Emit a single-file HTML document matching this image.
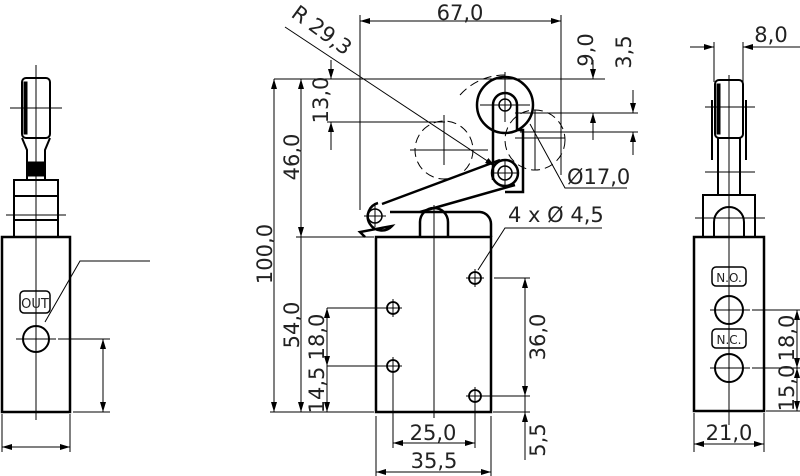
<!DOCTYPE html>
<html><head><style>body{margin:0;background:#fff}svg{display:block}text{font-family:"DejaVu Sans","Liberation Sans",sans-serif;font-size:21px;fill:#222}</style></head>
<body>
<svg width="800" height="476" viewBox="0 0 800 476" xmlns="http://www.w3.org/2000/svg">
<defs>
<marker id="a" viewBox="0 0 10 6" refX="10" refY="3" markerWidth="10" markerHeight="6" orient="auto-start-reverse" markerUnits="userSpaceOnUse"><path d="M0,0L10,3L0,6z" fill="#000"/></marker>
</defs>
<g stroke="#000" fill="none" stroke-width="1">
<!-- ===== LEFT VIEW ===== -->
<rect x="2" y="237" width="68" height="175" stroke-width="2.5"/>
<line x1="36" y1="65" x2="36" y2="420"/>
<rect x="20" y="291" width="30" height="22" rx="4" stroke-width="1.5"/>
<circle cx="36" cy="339" r="13" stroke-width="2"/>
<line x1="16" y1="339" x2="56" y2="339"/>
<line x1="58" y1="339" x2="110" y2="339"/>
<line x1="73" y1="412" x2="110" y2="412"/>
<line x1="103" y1="339" x2="103" y2="412" marker-start="url(#a)" marker-end="url(#a)"/>
<polyline points="45,322 80,261 150,261"/>
<line x1="2" y1="414" x2="2" y2="452"/><line x1="70" y1="414" x2="70" y2="452"/>
<line x1="2" y1="447" x2="70" y2="447" marker-start="url(#a)" marker-end="url(#a)"/>
<g stroke-width="2">
<rect x="22" y="78" width="28" height="60" rx="4"/>
<path d="M22,138 L27,150 L27,180 M50,138 L45,150 L45,180"/>
<rect x="14" y="180" width="44" height="57"/>
<line x1="14" y1="196" x2="58" y2="196"/><line x1="14" y1="220" x2="58" y2="220"/>
</g>
<rect x="28" y="162" width="16" height="14" fill="#000"/>
<rect x="24" y="82" width="3" height="52" fill="#000"/>
<line x1="10" y1="108" x2="62" y2="108"/>
<line x1="6" y1="215" x2="66" y2="215"/>
<!-- ===== CENTER VIEW ===== -->
<rect x="376" y="237" width="115" height="175" stroke-width="2.5"/>
<line x1="434" y1="205" x2="434" y2="418"/>
<g stroke-width="1.8">
<circle cx="393" cy="308" r="6"/><circle cx="393" cy="366" r="6"/>
<circle cx="475" cy="278" r="6"/><circle cx="475" cy="396" r="6"/>
</g>
<path d="M384,308h18M393,299v18M384,366h18M393,357v18M466,278h18M475,269v18M466,396h18M475,387v18"/>
<g stroke-width="2.5">
<circle cx="505" cy="105" r="28"/>
<path d="M493,180 L493,105 A12,12 0 0 1 517,105 L517,130 L523,130 L523,192 L505,192"/>
<circle cx="505" cy="173" r="13"/>
<path d="M382,204 L500,160 M420,212 L515,185"/>
<path d="M378,203 A14,14 0 1 0 392,226 L360,232 L365,237"/>
<path d="M390,212 L480,212 A12,12 0 0 1 491,224 L491,237"/>
<path d="M420,237 L420,222 A14,14 0 0 1 448,222 L448,237"/>
</g>
<circle cx="505" cy="105" r="6" stroke-width="1.5"/>
<circle cx="505" cy="173" r="7" stroke-width="1.5"/>
<circle cx="375" cy="216" r="7" stroke-width="1.5"/>
<path d="M480,105h50M505,72v50M492,173h26M505,160v26M364,216h22M375,205v22"/>
<g stroke-dasharray="9,5">
<circle cx="444" cy="150" r="29"/>
<circle cx="535" cy="140" r="30"/>
<path d="M460,95 A60,60 0 0 1 505,75"/>
</g>
<path d="M410,150h78M444,115v50M515,138h50M535,110v60"/>
<line x1="274" y1="79" x2="605" y2="79"/>
<line x1="274" y1="79" x2="274" y2="412" marker-start="url(#a)" marker-end="url(#a)"/>
<line x1="301" y1="79" x2="301" y2="237" marker-start="url(#a)" marker-end="url(#a)"/>
<line x1="301" y1="237" x2="301" y2="412" marker-end="url(#a)"/>
<line x1="296" y1="237" x2="374" y2="237"/>
<line x1="270" y1="412" x2="374" y2="412"/>
<line x1="331" y1="60" x2="331" y2="79" marker-end="url(#a)"/>
<line x1="331" y1="150" x2="331" y2="122" marker-end="url(#a)"/>
<line x1="327" y1="122" x2="445" y2="122"/>
<line x1="327" y1="308" x2="388" y2="308"/><line x1="327" y1="366" x2="388" y2="366"/>
<line x1="327" y1="308" x2="327" y2="366" marker-start="url(#a)" marker-end="url(#a)"/>
<line x1="327" y1="366" x2="327" y2="412" marker-end="url(#a)"/>
<line x1="360" y1="21" x2="561" y2="21" marker-start="url(#a)" marker-end="url(#a)"/>
<line x1="360" y1="15" x2="360" y2="210"/><line x1="561" y1="15" x2="561" y2="175"/>
<line x1="515" y1="113" x2="638" y2="113"/>
<line x1="520" y1="132" x2="638" y2="132"/>
<line x1="593" y1="60" x2="593" y2="79" marker-end="url(#a)"/>
<line x1="593" y1="140" x2="593" y2="113" marker-end="url(#a)"/>
<line x1="633" y1="90" x2="633" y2="113" marker-end="url(#a)"/>
<line x1="633" y1="155" x2="633" y2="132" marker-end="url(#a)"/>
<line x1="285" y1="27" x2="495" y2="166" marker-end="url(#a)"/>
<polyline points="530,124 565,188 627,188"/>
<polyline points="478,270 505,228 602,228" />
<line x1="494" y1="278" x2="530" y2="278"/><line x1="484" y1="396" x2="530" y2="396"/>
<line x1="525" y1="278" x2="525" y2="396" marker-start="url(#a)" marker-end="url(#a)"/>
<line x1="525" y1="440" x2="525" y2="412" marker-end="url(#a)"/>
<line x1="493" y1="412" x2="530" y2="412"/>
<line x1="525" y1="396" x2="525" y2="460"/>
<line x1="393" y1="374" x2="393" y2="448"/><line x1="475" y1="404" x2="475" y2="448"/>
<line x1="393" y1="443" x2="475" y2="443" marker-start="url(#a)" marker-end="url(#a)"/>
<line x1="376" y1="416" x2="376" y2="476"/><line x1="491" y1="416" x2="491" y2="476"/>
<line x1="376" y1="472" x2="491" y2="472" marker-start="url(#a)" marker-end="url(#a)"/>
<!-- ===== RIGHT VIEW ===== -->
<rect x="694" y="237" width="70" height="174" stroke-width="2.5"/>
<line x1="729" y1="75" x2="729" y2="425"/>
<rect x="712" y="267" width="34" height="19" rx="4" stroke-width="1.5"/>
<rect x="712" y="329" width="34" height="19" rx="4" stroke-width="1.5"/>
<circle cx="729" cy="310" r="14" stroke-width="2"/>
<circle cx="729" cy="368" r="14" stroke-width="2"/>
<path d="M710,310h40M710,368h40"/>
<line x1="752" y1="310" x2="800" y2="310"/><line x1="752" y1="368" x2="800" y2="368"/>
<line x1="766" y1="411" x2="800" y2="411"/>
<line x1="797" y1="310" x2="797" y2="368" marker-start="url(#a)" marker-end="url(#a)"/>
<line x1="797" y1="368" x2="797" y2="411" marker-start="url(#a)" marker-end="url(#a)"/>
<line x1="694" y1="413" x2="694" y2="452"/><line x1="764" y1="413" x2="764" y2="452"/>
<line x1="694" y1="444" x2="764" y2="444" marker-start="url(#a)" marker-end="url(#a)"/>
<line x1="714" y1="42" x2="714" y2="82"/><line x1="743" y1="42" x2="743" y2="82"/>
<line x1="690" y1="47" x2="714" y2="47" marker-end="url(#a)"/>
<line x1="800" y1="47" x2="743" y2="47" marker-end="url(#a)"/>
<g stroke-width="2">
<rect x="715" y="80" width="28" height="58" rx="4"/>
<path d="M712,100 L712,160 M746,100 L746,160 M718,138 L718,195 M740,138 L740,195"/>
<rect x="703" y="195" width="52" height="42"/>
<path d="M714,237 L714,222 A15,15 0 0 1 744,222 L744,237"/>
</g>
<rect x="717" y="84" width="3" height="50" fill="#000"/>
<line x1="705" y1="107" x2="755" y2="107"/><line x1="705" y1="172" x2="755" y2="172"/><line x1="695" y1="218" x2="765" y2="218"/>
</g>
<text x="35" y="308" text-anchor="middle" style="font-size:13px">OUT</text>
<text x="729" y="282" text-anchor="middle" style="font-size:12px">N.O.</text>
<text x="729" y="344" text-anchor="middle" style="font-size:12px">N.C.</text>
<text x="460" y="20" text-anchor="middle">67,0</text>
<text x="290" y="16" transform="rotate(36 290 16)">R 29,3</text>
<text x="567" y="184">Ø17,0</text>
<text x="508" y="222">4 x Ø 4,5</text>
<text x="433" y="440" text-anchor="middle">25,0</text>
<text x="434" y="468" text-anchor="middle">35,5</text>
<text x="771" y="42" text-anchor="middle">8,0</text>
<text x="729" y="440" text-anchor="middle">21,0</text>
<g text-anchor="middle">
<text transform="translate(272,254) rotate(-90)">100,0</text>
<text transform="translate(299,157) rotate(-90)">46,0</text>
<text transform="translate(299,325) rotate(-90)">54,0</text>
<text transform="translate(328,100) rotate(-90)">13,0</text>
<text transform="translate(324,337) rotate(-90)">18,0</text>
<text transform="translate(324,390) rotate(-90)">14,5</text>
<text transform="translate(545,337) rotate(-90)">36,0</text>
<text transform="translate(545,440) rotate(-90)">5,5</text>
<text transform="translate(593,50) rotate(-90)">9,0</text>
<text transform="translate(631,52) rotate(-90)">3,5</text>
<text transform="translate(794,338) rotate(-90)">18,0</text>
<text transform="translate(794,388) rotate(-90)">15,0</text>
</g>
</svg>
</body></html>
